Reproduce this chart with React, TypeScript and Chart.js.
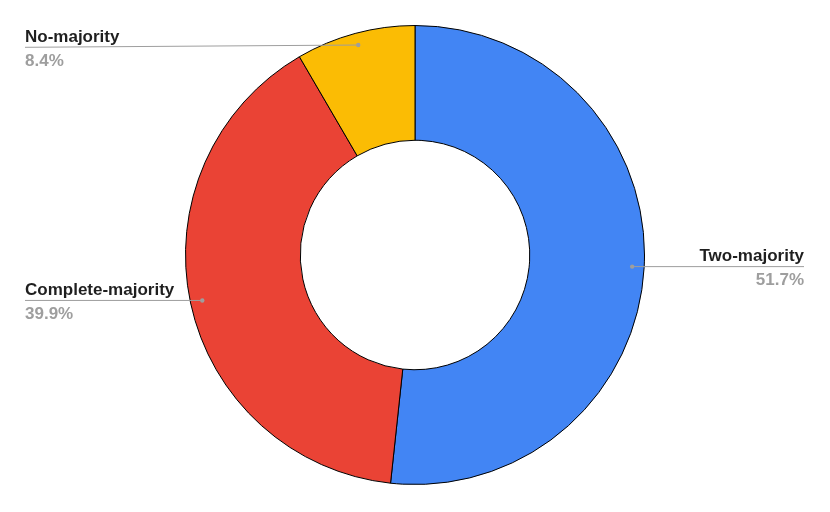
import React, { useEffect, useRef } from "react";
import { Chart, registerables } from "chart.js";

Chart.register(...registerables);

const categories = ["Two-majority", "Complete-majority", "No-majority"];
const values = [51.7, 39.9, 8.4];
const colors = ["#4285F4", "#EA4335", "#FBBC04"];

const labelPlugin = {
  id: "sideLabels",
  afterDraw(chart: any) {
    const ctx = chart.ctx;
    const meta = chart.getDatasetMeta(0);
    const total = values.reduce((a, b) => a + b, 0);
    ctx.save();
    meta.data.forEach((arc: any, i: number) => {
      const mid = (arc.startAngle + arc.endAngle) / 2;
      const r = arc.outerRadius - 12;
      const dx = arc.x + Math.cos(mid) * r;
      const dy = arc.y + Math.sin(mid) * r;
      const right = Math.cos(mid) > 0;
      const edgeX = right ? 804 : 25;
      const ly = Math.max(dy, 47.3);
      ctx.strokeStyle = "#9e9e9e";
      ctx.lineWidth = 1;
      ctx.beginPath();
      ctx.moveTo(dx, dy);
      ctx.lineTo(edgeX, ly);
      ctx.stroke();
      ctx.fillStyle = "#9e9e9e";
      ctx.beginPath();
      ctx.arc(dx, dy, 2.2, 0, Math.PI * 2);
      ctx.fill();
      ctx.textAlign = right ? "right" : "left";
      ctx.textBaseline = "alphabetic";
      ctx.font = "bold 17px 'Liberation Sans', Arial, sans-serif";
      ctx.fillStyle = "#1f1f1f";
      ctx.fillText(categories[i], edgeX, ly - 5.5);
      ctx.fillStyle = "#9e9e9e";
      ctx.fillText(((values[i] / total) * 100).toFixed(1) + "%", edgeX, ly + 18.5);
    });
    ctx.restore();
  },
};

export default function App() {
  const ref = useRef<HTMLCanvasElement>(null);
  useEffect(() => {
    const chart = new Chart(ref.current!, {
      type: "doughnut",
      data: {
        labels: categories,
        datasets: [
          {
            data: values,
            backgroundColor: colors,
            borderColor: "#000000",
            borderWidth: 1,
          },
        ],
      },
      options: {
        responsive: false,
        animation: false,
        cutout: "50%",
        layout: { padding: { top: 25, bottom: 27, left: 0, right: 0 } },
        plugins: { legend: { display: false }, tooltip: { enabled: false } },
      },
      plugins: [labelPlugin],
    });
    return () => chart.destroy();
  }, []);
  return (
    <div style={{ position: "fixed", left: 0, top: 0, width: 830, height: 512, background: "#fff" }}>
      <canvas ref={ref} width={830} height={512} />
    </div>
  );
}
